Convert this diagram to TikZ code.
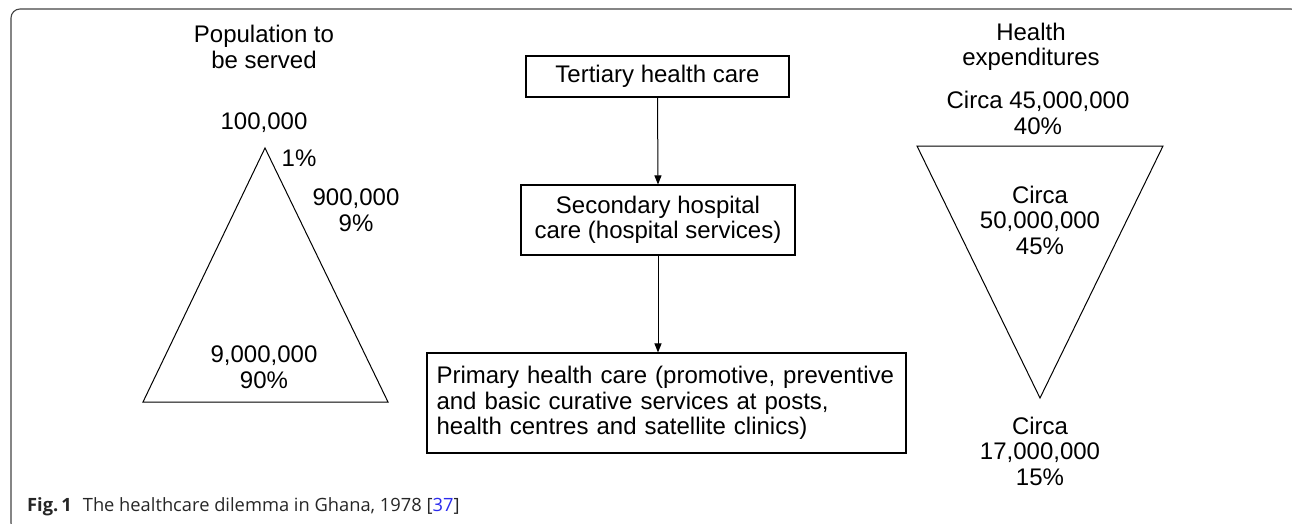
\documentclass[tikz,border=0pt]{standalone}
\usepackage{fontspec}
\setmainfont{Liberation Sans}
\newfontfamily\capfont{Open Sans}
\usetikzlibrary{arrows.meta}
\definecolor{framegray}{HTML}{444444}
\definecolor{refblue}{HTML}{2B2BEE}
\tikzset{
  txt/.style={font=\fontsize{24}{25.5}\selectfont, align=center, inner sep=0pt},
  boxnode/.style={draw, line width=1.1pt, font=\fontsize{24}{25.5}\selectfont, align=center, inner sep=0pt},
  shapeline/.style={line width=1pt, line join=miter},
  arr/.style={line width=1pt, -{Triangle[length=9pt,width=7pt]}},
}
\begin{document}
\begin{tikzpicture}[x=1pt,y=-1pt]
\useasboundingbox (0,0) rectangle (1292,523);
\begin{scope}
\clip (0,0) rectangle (1292,523);
\draw[framegray, line width=1.1pt, rounded corners=9pt] (11,9) rectangle (1300,532);
\end{scope}

% left pyramid
\node[txt] (poptitle) at (264,47) {Population to\\be served};
\node[txt] (p100) at (264,123) {100,000};
\coordinate (lapex) at (265,148);
\coordinate (lbl) at (143,402);
\coordinate (lbr) at (388,402);
\draw[shapeline] (lapex) -- (lbr) -- (lbl) -- cycle;
\node[txt] (p1) at (299,158) {1\%};
\node[txt] (p900) at (356,210) {900,000\\9\%};
\node[txt] (p9m) at (264,367) {9,000,000\\90\%};

% middle flow
\node[boxnode, minimum width=263pt, minimum height=41pt] (tert) at (657.5,76.5) {Tertiary health care};
\node[boxnode, minimum width=274pt, minimum height=70pt] (sec) at (658,220) {Secondary hospital\\care (hospital services)};
\node[boxnode, minimum width=479pt, minimum height=100pt, align=left, text width=460pt] (prim) at (666.5,403) {Primary health care (promotive, preventive\\and basic curative services at posts,\\health centres and satellite clinics)};
\draw[arr] (tert.south) -- (sec.north);
\draw[arr] (sec.south) -- (prim.north -| sec.south);

% right inverted pyramid
\node[txt] (hetitle) at (1031,47) {Health\\expenditures};
\node[txt] (h45) at (1038,113) {Circa 45,000,000\\40\%};
\coordinate (rtl) at (917,146);
\coordinate (rtr) at (1163,146);
\coordinate (rapex) at (1040,398);
\draw[shapeline] (rtl) -- (rtr) -- (rapex) -- cycle;
\node[txt] (h50) at (1040,220) {Circa\\50,000,000\\45\%};
\node[txt] (h17) at (1040,451) {Circa\\17,000,000\\15\%};

% caption
\node[anchor=base west, inner sep=0pt, font=\capfont\fontsize{18.3}{21}\selectfont, text=black!85] (cap) at (27,511)
  {\textbf{Fig.\,1}\hspace{11pt}The healthcare dilemma in Ghana, 1978 [\textcolor{refblue}{37}]};
\end{tikzpicture}
\end{document}
